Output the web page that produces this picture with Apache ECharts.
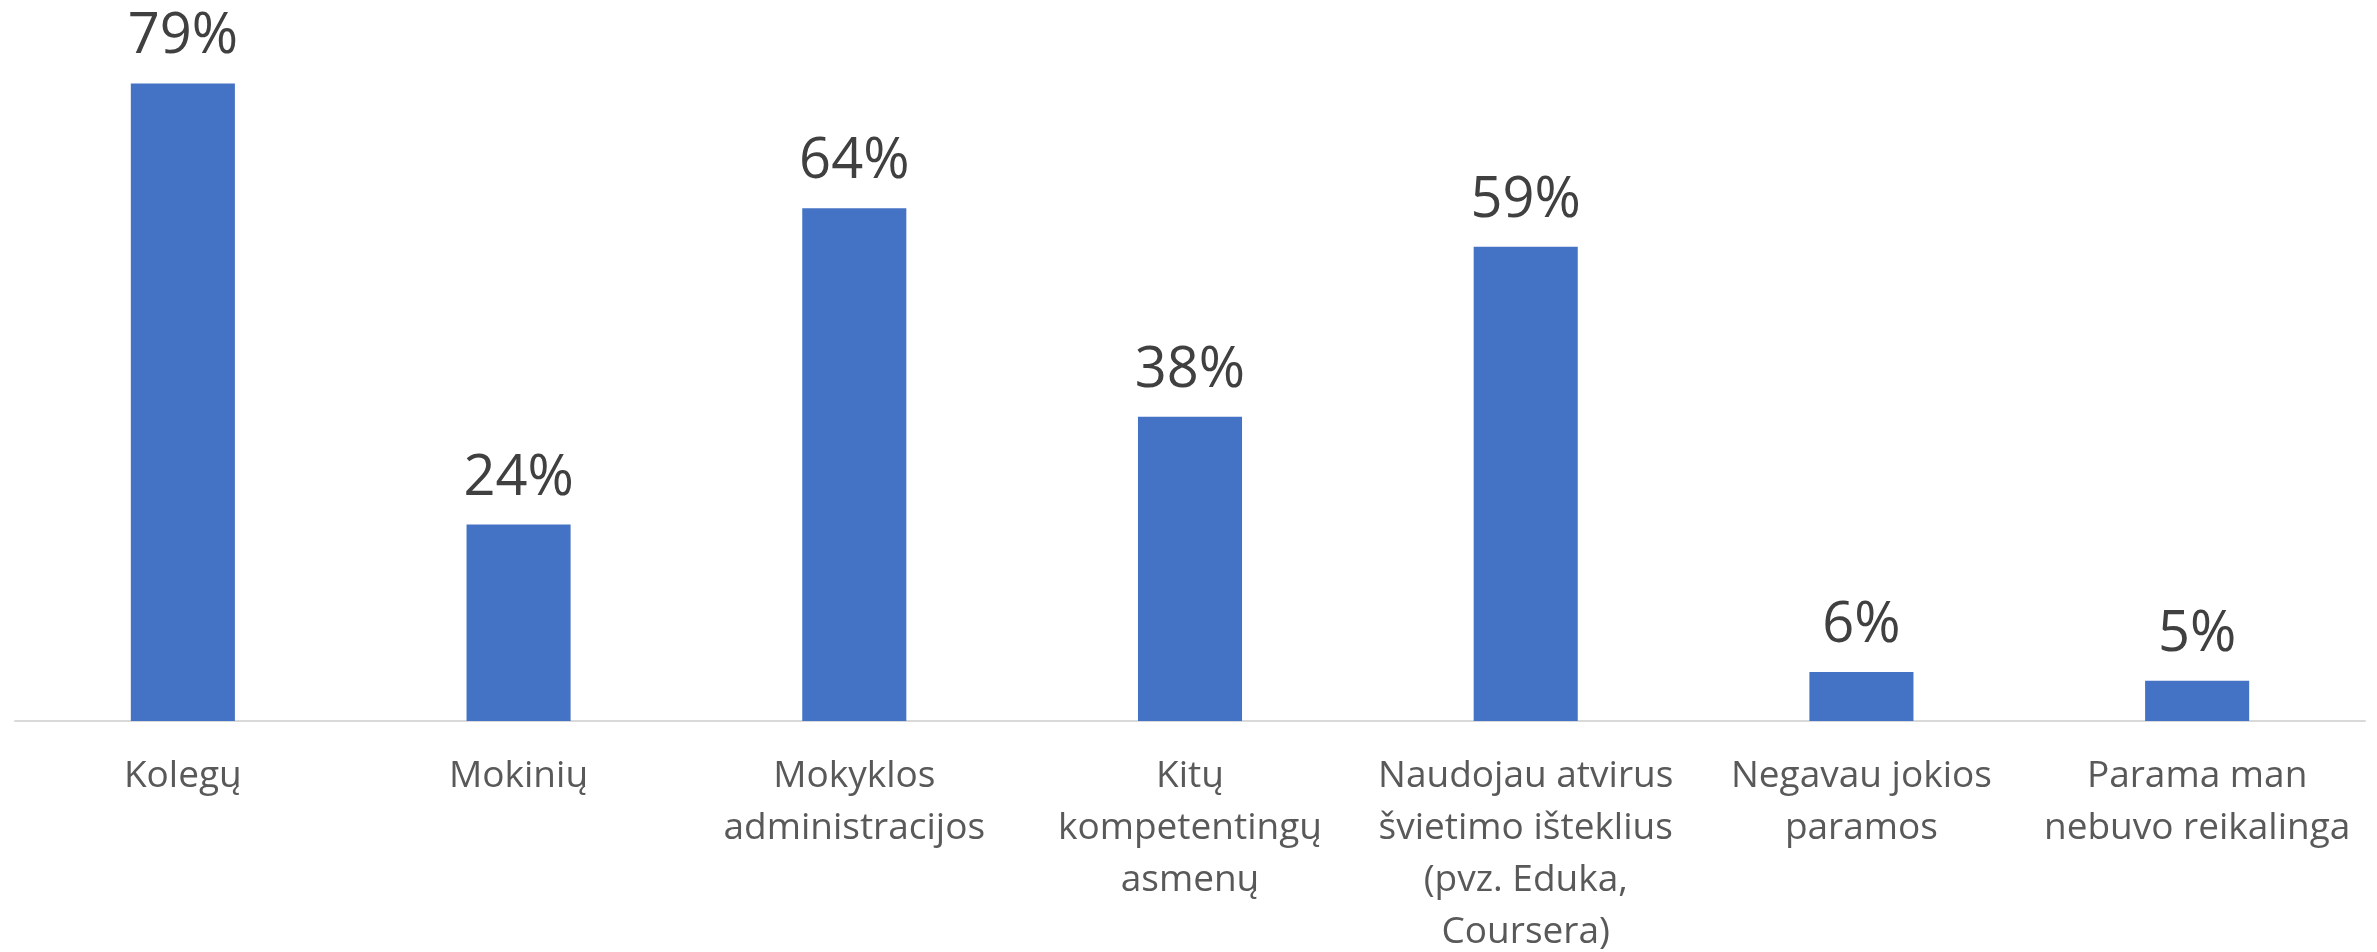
<!DOCTYPE html>
<html>
<head>
<meta charset="utf-8">
<script src="https://cdn.jsdelivr.net/npm/echarts@6/dist/echarts.min.js"></script>
<style>
  html, body { margin: 0; padding: 0; background: #fff; }
  #chart { width: 2377px; height: 952px; }
</style>
</head>
<body>
<div id="chart"></div>
<script>
// kategorijos (su eilučių laužymu kaip paveiksle)
var categories = [
    'Kolegų',
    'Mokinių',
    'Mokyklos\nadministracijos',
    'Kitų\nkompetentingų\nasmenų',
    'Naudojau atvirus\nšvietimo išteklius\n(pvz. Eduka,\nCoursera)',
    'Negavau jokios\nparamos',
    'Parama man\nnebuvo reikalinga'
];
// reikšmės (%), nuskaitytos nuo stulpelių aukščio
var values = [79.2, 24.4, 63.7, 37.8, 58.9, 6.1, 5.0];

var myChart = echarts.init(document.getElementById('chart'));
var option = {
    animation: false,
    backgroundColor: '#ffffff',
    grid: { left: 15, right: 12, top: 77, bottom: 231, outerBoundsMode: 'none', containLabel: false },
    xAxis: {
        type: 'category',
        data: categories,
        axisLine: { lineStyle: { color: '#d9d9d9', width: 2 } },
        axisTick: { show: false },
        axisLabel: {
            interval: 0,
            margin: 29,
            color: '#595959',
            fontFamily: 'Open Sans',
            fontSize: 37,
            lineHeight: 52
        }
    },
    yAxis: {
        type: 'value',
        min: 0,
        max: 80,
        show: false,
        splitLine: { show: false }
    },
    series: [{
        type: 'bar',
        data: values,
        barCategoryGap: '69%',
        itemStyle: { color: '#4472C4' },
        label: {
            show: true,
            position: 'top',
            distance: 18,
            color: '#404040',
            fontFamily: 'Open Sans',
            fontSize: 56,
            formatter: function (p) { return Math.round(p.value) + '%'; }
        }
    }]
};
myChart.setOption(option);
</script>
</body>
</html>
